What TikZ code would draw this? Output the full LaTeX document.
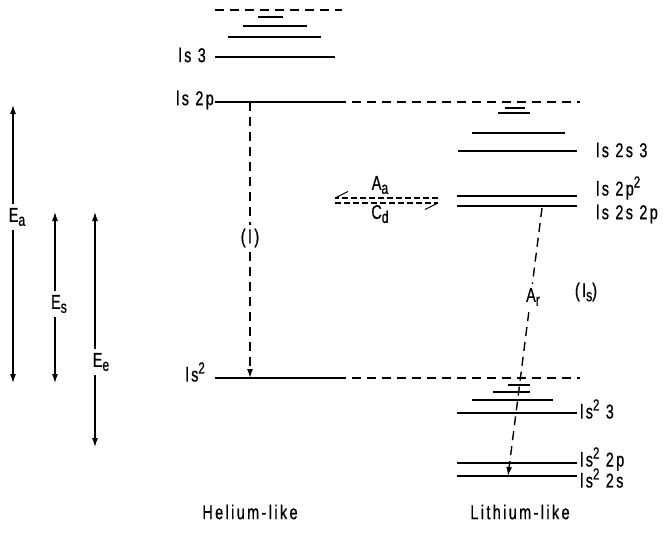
\documentclass[tikz,border=0pt]{standalone}
\usepackage{fontspec}
\setmainfont[FakeStretch=0.72, LetterSpace=12, FakeBold=0.8]{Liberation Sans}
\usetikzlibrary{arrows.meta}
\newcommand\lblfont{\fontsize{20}{22}\selectfont}
\newcommand\upr[1]{\raisebox{8pt}{\fontsize{16}{16}\selectfont #1}}
\newcommand\dnr[1]{\raisebox{-4pt}{\fontsize{17}{17}\selectfont #1}}
\begin{document}
\begin{tikzpicture}[x=1pt,y=-1pt,
  lvl/.style={line width=1.4pt},
  dsh/.style={line width=1.4pt, dash pattern=on 9pt off 6pt},
  fdsh/.style={line width=1.1pt, dash pattern=on 6pt off 3pt},
  tip/.style={-{Latex[length=9pt,width=6pt]}},
  ttip/.style={{Latex[length=9pt,width=6pt]}-{Latex[length=9pt,width=6pt]}},
  vline/.style={line width=1.1pt},
  lbl/.style={font=\lblfont, inner sep=0pt},
  gaplbl/.style={font=\lblfont, fill=white, inner sep=4pt}]
\useasboundingbox (0,0) rectangle (663,535);

% ---------- Helium-like levels ----------
\coordinate (hd1) at (215,10);  \coordinate (hd2) at (342,10);
\draw[dsh] (hd1) -- (hd2);
\coordinate (hs1a) at (258,17); \coordinate (hs1b) at (283,17);
\draw[lvl] (hs1a) -- (hs1b);
\coordinate (hs2a) at (243,26); \coordinate (hs2b) at (307,26);
\draw[lvl] (hs2a) -- (hs2b);
\coordinate (hs3a) at (228,37); \coordinate (hs3b) at (321,37);
\draw[lvl] (hs3a) -- (hs3b);
\coordinate (h3a) at (215,57); \coordinate (h3b) at (335,57);
\draw[lvl] (h3a) -- (h3b);
\node[lbl, anchor=east] (lh3) at (206,55) {ls 3};

\coordinate (h2pa) at (215,102); \coordinate (h2pb) at (337,102);
\coordinate (h2pc) at (580,102);
\draw[lvl] (h2pa) -- (h2pb);
\draw[dsh] (h2pb) -- (h2pc);
\node[lbl, anchor=east] (lh2p) at (214,100) {ls 2p};

\coordinate (hga) at (215,378); \coordinate (hgb) at (337,378);
\coordinate (hgc) at (580,378);
\draw[lvl] (hga) -- (hgb);
\draw[dsh] (hgb) -- (hgc);
\node[lbl, anchor=east] (lhg) at (205,372) {ls\upr{2}};

% transition (I)
\coordinate (t1a) at (250,102); \coordinate (t1b) at (250,378);
\draw[dsh, tip] (t1a) -- (t1b);
\node[gaplbl] (lI) at (250,238) {(I)};

% ---------- Lithium-like levels ----------
\coordinate (ls1a) at (505,108); \coordinate (ls1b) at (525,108);
\draw[lvl] (ls1a) -- (ls1b);
\coordinate (ls2a) at (498,113); \coordinate (ls2b) at (530,113);
\draw[lvl] (ls2a) -- (ls2b);
\coordinate (ls3a) at (472,133); \coordinate (ls3b) at (565,133);
\draw[lvl] (ls3a) -- (ls3b);
\coordinate (l23a) at (458,151); \coordinate (l23b) at (577,151);
\draw[lvl] (l23a) -- (l23b);
\node[lbl, anchor=west] (ll23) at (596,150) {ls 2s 3};
\coordinate (l2p2a) at (457,196); \coordinate (l2p2b) at (577,196);
\draw[lvl] (l2p2a) -- (l2p2b);
\node[lbl, anchor=west] (ll2p2) at (596,188) {ls 2p\upr{2}};
\coordinate (l2s2pa) at (457,206); \coordinate (l2s2pb) at (577,206);
\draw[lvl] (l2s2pa) -- (l2s2pb);
\node[lbl, anchor=west] (ll2s2p) at (596,214) {ls 2s 2p};

\coordinate (lg1a) at (508,385); \coordinate (lg1b) at (530,385);
\draw[lvl] (lg1a) -- (lg1b);
\coordinate (lg2a) at (493,392); \coordinate (lg2b) at (530,392);
\draw[lvl] (lg2a) -- (lg2b);
\coordinate (lg3a) at (472,400); \coordinate (lg3b) at (553,400);
\draw[lvl] (lg3a) -- (lg3b);
\coordinate (lg4a) at (457,413); \coordinate (lg4b) at (577,413);
\draw[lvl] (lg4a) -- (lg4b);
\node[lbl, anchor=west] (llg3) at (580,409) {ls\upr{2} 3};
\coordinate (lpa) at (457,463); \coordinate (lpb) at (577,463);
\draw[lvl] (lpa) -- (lpb);
\node[lbl, anchor=west] (llp) at (580,459) {ls\upr{2} 2p};
\coordinate (lsa) at (457,476); \coordinate (lsb) at (577,476);
\draw[lvl] (lsa) -- (lsb);
\node[lbl, anchor=west] (lls) at (580,478) {ls\upr{2} 2s};

% transition A_r (I_s)
\coordinate (ar1) at (542,208); \coordinate (ar2) at (508,476);
\draw[dsh, tip] (ar1) -- (ar2);
\node[gaplbl] (lAr) at (533,297) {A\dnr{r}};
\node[lbl] (lIs) at (586,292) {(I\dnr{s})};

% A_a / C_d
\coordinate (aa1) at (438,198); \coordinate (aa2) at (335,198);
\coordinate (aab) at (348,191.5);
\draw[fdsh] (aa1) -- (aa2);
\draw[line width=1.1pt] (aa2) -- (aab);
\coordinate (cd1) at (335,203); \coordinate (cd2) at (438,203);
\coordinate (cdb) at (425,209.5);
\draw[fdsh] (cd1) -- (cd2);
\draw[line width=1.1pt] (cd2) -- (cdb);
\node[lbl] (lAa) at (380,185) {A\dnr{a}};
\node[lbl] (lCd) at (380,214) {C\dnr{d}};

% ---------- energy arrows ----------
\coordinate (ea1) at (13,105); \coordinate (ea2) at (13,383);
\draw[vline, ttip] (ea1) -- (ea2);
\node[gaplbl] (lEa) at (17,217) {E\dnr{a}};
\coordinate (es1) at (55,212); \coordinate (es2) at (55,383);
\draw[vline, ttip] (es1) -- (es2);
\node[gaplbl] (lEs) at (59,304) {E\dnr{s}};
\coordinate (ee1) at (95,212); \coordinate (ee2) at (95,447);
\draw[vline, ttip] (ee1) -- (ee2);
\node[gaplbl] (lEe) at (101,362) {E\dnr{e}};

% ---------- bottom labels ----------
\node[lbl] (lhe) at (250,512) {Helium-like};
\node[lbl] (lli) at (520,512) {Lithium-like};
\end{tikzpicture}
\end{document}
